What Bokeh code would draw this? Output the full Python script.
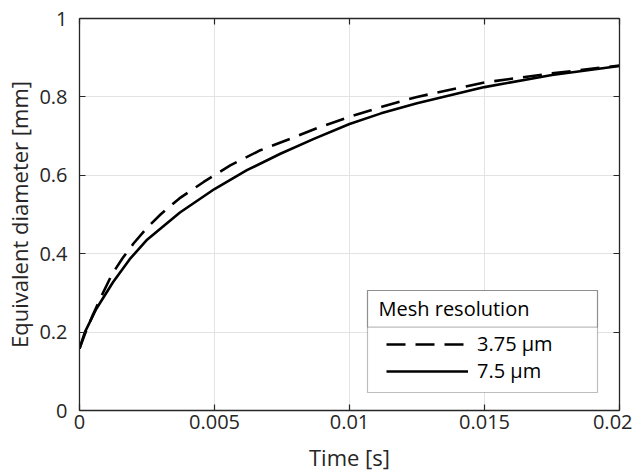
from bokeh.plotting import figure
from bokeh.models import FixedTicker, LinearAxis, Legend, LegendItem, Range1d, BoxAnnotation, Label
from bokeh.embed import file_html
from bokeh.resources import INLINE

# ---- data ----
time_fine = [0, 0.0002, 0.0005, 0.0008, 0.0012, 0.0016, 0.002, 0.0025, 0.003, 0.0037, 0.0046,
             0.0056, 0.0067, 0.0078, 0.0089, 0.01, 0.0112, 0.0125, 0.015, 0.0175, 0.02]
diam_fine = [0.158, 0.195, 0.245, 0.290, 0.347, 0.389, 0.426, 0.466, 0.500, 0.541, 0.583,
             0.626, 0.664, 0.693, 0.723, 0.749, 0.775, 0.800, 0.837, 0.860, 0.880]

time_coarse = [0, 0.0002, 0.00062, 0.00124, 0.00186, 0.00248, 0.00372, 0.005, 0.0062, 0.00744,
               0.00868, 0.01, 0.01117, 0.0125, 0.015, 0.0175, 0.02]
diam_coarse = [0.158, 0.200, 0.259, 0.327, 0.386, 0.434, 0.505, 0.565, 0.613, 0.655,
               0.693, 0.731, 0.758, 0.784, 0.825, 0.856, 0.879]

series_labels = ["3.75 µm", "7.5 µm"]
legend_title = "Mesh resolution"
x_title = "Time [s]"
y_title = "Equivalent diameter [mm]"

x_ticks = [0, 0.005, 0.01, 0.015, 0.02]
x_tick_labels = ["0", "0.005", "0.01", "0.015", "0.02"]
y_ticks = [0, 0.2, 0.4, 0.6, 0.8, 1]
y_tick_labels = ["0", "0.2", "0.4", "0.6", "0.8", "1"]

FONT = "Open Sans"
AX = "#262626"

p = figure(width=632, height=474, output_backend="svg", toolbar_location=None,
           x_range=Range1d(0, 0.02), y_range=Range1d(0, 1),
           min_border_left=79, min_border_right=13, min_border_top=18, min_border_bottom=64)
p.outline_line_color = None
p.background_fill_color = "white"
p.border_fill_color = "white"

r_dash = p.line(time_fine, diam_fine, line_color="black", line_width=2.6, line_dash="19 10")
r_solid = p.line(time_coarse, diam_coarse, line_color="black", line_width=2.6)

def style_axis(ax, ticks, labels, show_labels=True):
    ax.ticker = FixedTicker(ticks=ticks)
    ax.major_label_overrides = {t: (l if show_labels else "") for t, l in zip(ticks, labels)}
    ax.minor_tick_line_color = None
    ax.major_tick_in = 6
    ax.major_tick_out = 0
    ax.major_tick_line_color = AX
    ax.major_tick_line_width = 1.2
    ax.axis_line_color = AX
    ax.axis_line_width = 1.3
    ax.major_label_text_font = FONT
    ax.major_label_text_font_size = "20px" if show_labels else "0px"
    ax.major_label_text_color = AX
    ax.axis_label_text_font = FONT
    ax.axis_label_text_font_size = "22px"
    ax.axis_label_text_font_style = "normal"
    ax.axis_label_text_color = AX

xa = p.xaxis[0]
ya = p.yaxis[0]
style_axis(xa, x_ticks, x_tick_labels)
style_axis(ya, y_ticks, y_tick_labels)
xa.axis_label = x_title
ya.axis_label = y_title
xa.major_label_standoff = 4
xa.axis_label_standoff = 10
ya.major_label_standoff = 12
ya.axis_label_standoff = 2

top = LinearAxis()
right = LinearAxis()
style_axis(top, x_ticks, x_tick_labels, show_labels=False)
style_axis(right, y_ticks, y_tick_labels, show_labels=False)
top.major_label_standoff = 0
right.major_label_standoff = 0
p.add_layout(top, "above")
p.add_layout(right, "right")

p.xgrid.ticker = FixedTicker(ticks=x_ticks)
p.ygrid.ticker = FixedTicker(ticks=y_ticks)
for g in (p.xgrid[0], p.ygrid[0]):
    g.grid_line_color = "#e3e3e3"
    g.grid_line_width = 1

# legend frame (screen units, relative to the plot frame, y measured upward)
scr = dict(left_units="screen", right_units="screen", top_units="screen", bottom_units="screen")
p.add_layout(BoxAnnotation(left=288, right=518, bottom=18, top=120, fill_color="white", fill_alpha=1.0,
                           line_color=AX, line_width=1.2, **scr))
p.add_layout(BoxAnnotation(left=288, right=518, bottom=83.3, top=120, fill_alpha=0,
                           line_color=AX, line_width=1.2, **scr))
p.add_layout(Label(x=299, y=102, x_units="screen", y_units="screen", text=legend_title,
                   text_baseline="middle", text_align="left", text_font=FONT,
                   text_font_size="20px", text_color="black"))

legend = Legend(items=[LegendItem(label=series_labels[0], renderers=[r_dash]),
                       LegendItem(label=series_labels[1], renderers=[r_solid])],
                location=(307, 25.8), orientation="vertical",
                margin=0, padding=0, spacing=0,
                glyph_width=82, glyph_height=22, label_height=22,
                label_standoff=9,
                label_text_font=FONT, label_text_font_size="20px", label_text_color="black",
                border_line_color=None, background_fill_alpha=0.0)
p.add_layout(legend)

open("out.html", "w").write(file_html(p, INLINE))
